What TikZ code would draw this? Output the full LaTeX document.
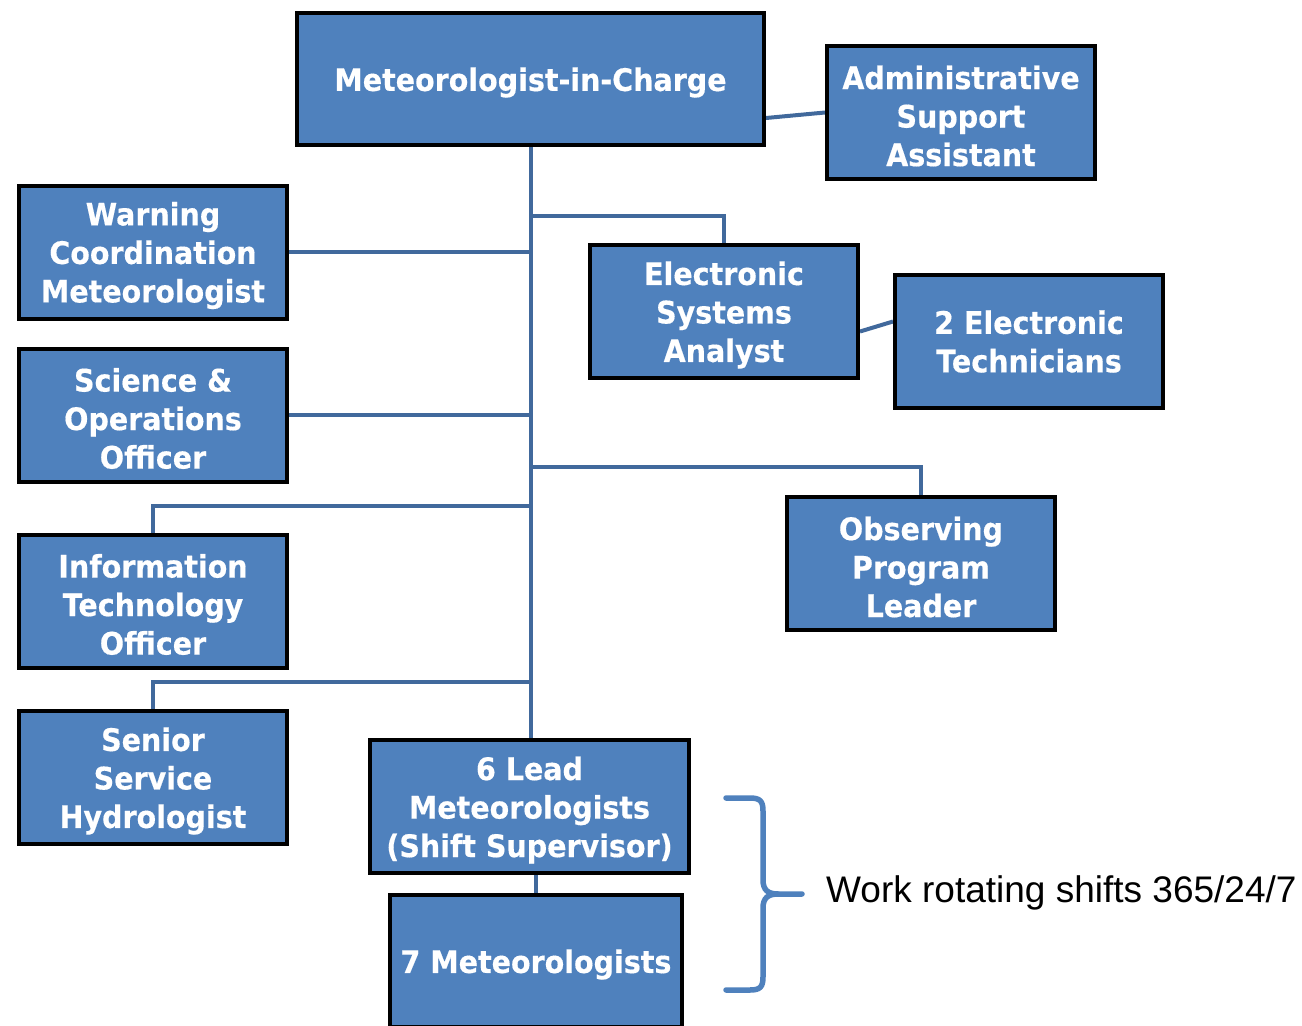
\documentclass[tikz,border=0pt]{standalone}
\usepackage{fontspec}
\setmainfont{DejaVu Sans}
\newfontfamily\boxfont{DejaVu Sans}[FakeStretch=0.92, BoldFeatures={FakeBold=0.4}]
\newfontfamily\labfont{Liberation Sans}
\usetikzlibrary{calc,backgrounds}
\definecolor{boxblue}{HTML}{4F81BD}
\definecolor{linkblue}{HTML}{41699C}
\tikzset{
  boxtext/.style={text=white, font=\boxfont\bfseries\fontsize{31}{38.5}\selectfont,
    align=center, inner sep=0pt, yshift=-3.5pt},
  boxbase/.style={rectangle, draw=black, line width=4pt, fill=boxblue, inner sep=0pt,
    minimum width=268pt, minimum height=133pt},
  orgbox/.style={boxbase, label={[boxtext]center:#1}},
  orgboxtwo/.style={boxbase, label={[boxtext, yshift=3.5pt]center:#1}},
  conn/.style={draw=linkblue, line width=4pt},
  bracestyle/.style={draw=boxblue, line width=5.5pt, line cap=round},
}
\begin{document}
\begin{tikzpicture}[x=1pt,y=-1pt]
\useasboundingbox (0,0) rectangle (1302,1026);
\clip (0,0) rectangle (1302,1026);
\node[orgbox={Meteorologist-in-Charge}, minimum width=467pt, minimum height=132pt] (mic) at (530.5,79) {};
\node[orgbox={Administrative\\Support\\Assistant}] (admin) at (961,112.5) {};
\node[orgbox={Warning\\Coordination\\Meteorologist}] (warn) at (153,252) {};
\node[orgbox={Science \&\\Operations\\Officer}] (sci) at (153,415) {};
\node[orgbox={Information\\Technology\\Officer}] (it) at (153,601) {};
\node[orgbox={Senior\\Service\\Hydrologist}] (hydro) at (153,777.5) {};
\node[orgbox={Electronic\\Systems\\Analyst}] (esa) at (724,311.5) {};
\node[orgboxtwo={2 Electronic\\Technicians}] (tech) at (1029,341.5) {};
\node[orgbox={Observing\\Program\\Leader}] (obs) at (921,563.5) {};
\node[orgbox={6 Lead\\Meteorologists\\(Shift Supervisor)}, minimum width=319pt] (lead) at (529.5,806.5) {};
\node[orgbox={7 Meteorologists}, minimum width=292pt, minimum height=132pt] (met) at (536,961) {};
\coordinate (esaj) at (530,216);
\coordinate (obsj) at (530,467);
\coordinate (itj) at (530,506);
\coordinate (hydj) at (530,682);
\begin{scope}[on background layer]
\draw[conn] (mic.south) -- (mic.south |- lead.north);
\draw[conn] (warn.east) -- (warn.east -| mic.south);
\draw[conn] (sci.east) -- (sci.east -| mic.south);
\draw[conn] (it.north) |- (itj);
\draw[conn] (hydro.north) |- (hydj);
\draw[conn] (esaj) -| (esa.north);
\draw[conn] (obsj) -| (obs.north);
\draw[conn] ($(mic.east)+(0,39)$) -- ($(admin.west)+(0,0)$);
\draw[conn] ($(esa.east)+(0,20)$) -- ($(tech.west)+(0,-20)$);
\draw[conn] (met.north) -- (met.north |- lead.south);
\end{scope}
\draw[bracestyle] (726,798) -- (750,798) .. controls (760,798) and (763,801) .. (763,811) -- (763,880) .. controls (763,890) and (768,894) .. (778,894) -- (802,894);
\draw[bracestyle] (778,894) .. controls (768,894) and (763,898) .. (763,908) -- (763,977) .. controls (763,987) and (760,990) .. (750,990) -- (726,990);
\node[anchor=base west, inner sep=0pt, font=\labfont\fontsize{37}{44}\selectfont] (lbl) at (826,902) {Work rotating shifts 365/24/7};
\end{tikzpicture}
\end{document}
